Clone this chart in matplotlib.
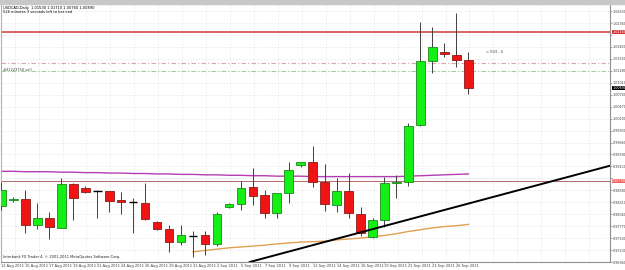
import matplotlib.pyplot as plt
from matplotlib.patches import Rectangle

# Daily USDCAD candles, 12 Aug 2011 .. 27 Sep 2011 (Sunday bars included)
dates = ['12 Aug 2011', '14 Aug 2011', '15 Aug 2011', '16 Aug 2011', '17 Aug 2011', '18 Aug 2011',
         '19 Aug 2011', '21 Aug 2011', '22 Aug 2011', '23 Aug 2011', '24 Aug 2011', '25 Aug 2011',
         '26 Aug 2011', '28 Aug 2011', '29 Aug 2011', '30 Aug 2011', '31 Aug 2011', '1 Sep 2011',
         '2 Sep 2011', '4 Sep 2011', '5 Sep 2011', '6 Sep 2011', '7 Sep 2011', '8 Sep 2011',
         '9 Sep 2011', '11 Sep 2011', '12 Sep 2011', '13 Sep 2011', '14 Sep 2011', '15 Sep 2011',
         '16 Sep 2011', '18 Sep 2011', '19 Sep 2011', '20 Sep 2011', '21 Sep 2011', '22 Sep 2011',
         '23 Sep 2011', '25 Sep 2011', '26 Sep 2011', '27 Sep 2011']

opens = [0.9823, 0.9836, 0.9838, 0.9780, 0.9795, 0.9773, 0.9872, 0.9863, 0.9857, 0.9857,
         0.9836, 0.9832, 0.9829, 0.9786, 0.9771, 0.9741, 0.9755, 0.9757, 0.9737, 0.9820,
         0.9827, 0.9866, 0.9847, 0.9807, 0.9852, 0.9915, 0.9922, 0.9877, 0.9825, 0.9857,
         0.9805, 0.9753, 0.9791, 0.9875, 0.9877, 1.0006, 1.0150, 1.0171, 1.0164, 1.0153]
highs = [0.9877, 0.9843, 0.9859, 0.9829, 0.9809, 0.9886, 0.9875, 0.9868, 0.9858, 0.9857,
         0.9854, 0.9841, 0.9875, 0.9789, 0.9780, 0.9780, 0.9766, 0.9766, 0.9809, 0.9829,
         0.9879, 0.9908, 0.9859, 0.9852, 0.9922, 0.9922, 0.9958, 0.9918, 0.9886, 0.9897,
         0.9820, 0.9795, 0.9888, 0.9893, 1.0010, 1.0238, 1.0227, 1.0191, 1.0259, 1.0171]
lows = [0.9814, 0.9832, 0.9762, 0.9771, 0.9748, 0.9773, 0.9791, 0.9852, 0.9795, 0.9809,
        0.9805, 0.9762, 0.9791, 0.9768, 0.9719, 0.9734, 0.9707, 0.9712, 0.9732, 0.9818,
        0.9814, 0.9825, 0.9795, 0.9795, 0.9829, 0.9911, 0.9866, 0.9811, 0.9809, 0.9795,
        0.9755, 0.9750, 0.9775, 0.9841, 0.9868, 1.0003, 1.0123, 1.0159, 1.0137, 1.0076]
closes = [0.9859, 0.9838, 0.9780, 0.9795, 0.9775, 0.9872, 0.9841, 0.9854, 0.9857, 0.9834,
          0.9832, 0.9832, 0.9793, 0.9771, 0.9741, 0.9757, 0.9755, 0.9737, 0.9805, 0.9827,
          0.9863, 0.9845, 0.9807, 0.9852, 0.9904, 0.9922, 0.9877, 0.9827, 0.9857, 0.9807,
          0.9762, 0.9791, 0.9875, 0.9877, 1.0003, 1.0150, 1.0182, 1.0166, 1.0153, 1.0089]

ma_fast = [0.9901, 0.9901, 0.9900, 0.9900, 0.9900, 0.9899, 0.9899, 0.9898, 0.9898, 0.9897,
           0.9897, 0.9896, 0.9896, 0.9895, 0.9895, 0.9894, 0.9894, 0.9893, 0.9893, 0.9892,
           0.9892, 0.9891, 0.9891, 0.9890, 0.9890, 0.9890, 0.9889, 0.9889, 0.9889, 0.9889,
           0.9889, 0.9889, 0.9889, 0.9889, 0.9890, 0.9891, 0.9892, 0.9893, 0.9894, 0.9895]
ma_slow_start = 16
ma_slow = [0.9719, 0.9722, 0.9725, 0.9728, 0.9730, 0.9732, 0.9734, 0.9737, 0.9739, 0.9741,
           0.9742, 0.9743, 0.9746, 0.9748, 0.9750, 0.9753, 0.9756, 0.9760, 0.9765, 0.9769,
           0.9773, 0.9776, 0.9778, 0.9781]

trend_pts = [(26, 0.9734), (39, 0.9828)]
level_red = 1.0216
level_brown = 0.9879
level_pink = 1.0146
level_green = 1.0128

y_ticks = [round(0.9696 + 0.0027 * k, 5) for k in range(22)]

FS = 2.6
FSY = 2.4
fig = plt.figure(figsize=(6.25, 2.7), dpi=100)
ax = fig.add_axes([1 / 625, 8 / 270, 609 / 625, 258 / 270])
fig.patches.append(Rectangle((0, 266 / 270), 1, 4 / 270, transform=fig.transFigure,
                             color='#c8c8c8', zorder=0))

n = len(opens)
ax.set_xlim(-0.04, 50.84)
ax.set_ylim(0.9696, 1.02791)

# grid
for k in range(26):
    ax.axvline(2 * k + 1.1, color='#d4d4d4', lw=0.5, ls=(0, (1, 2)), zorder=0)
for t in y_ticks:
    ax.axhline(t, color='#d4d4d4', lw=0.5, ls=(0, (1, 2)), zorder=0)

# horizontal levels
ax.axhline(level_red, color='#d24a4a', lw=1.2, zorder=1)
ax.axhline(level_brown, color='#b06a6a', lw=0.7, zorder=1)
ax.axhline(level_pink, color='#d9a5ad', lw=0.8, ls=(0, (4, 2, 1, 2)), zorder=1)
ax.axhline(level_green, color='#9ccf9c', lw=0.8, ls=(0, (4, 2, 1, 2)), zorder=1)

# moving averages
ax.plot(range(n), ma_fast, color='#b43cb4', lw=1.0, zorder=2)
ax.plot(range(ma_slow_start, ma_slow_start + len(ma_slow)), ma_slow, color='#e0a050', lw=1.0, zorder=2)

# candles
w = 0.72
for i in range(n):
    o, h, l, c = opens[i], highs[i], lows[i], closes[i]
    ax.vlines(i, l, h, color='#404040', lw=0.7, zorder=3)
    if abs(c - o) < 0.00008:
        ax.hlines(o, i - w / 2, i + w / 2, color='black', lw=1.0, zorder=4)
        continue
    up = c > o
    face = '#14f014' if up else '#f01414'
    edge = '#1a8a1a' if up else '#8a1a1a'
    ax.add_patch(Rectangle((i - w / 2, min(o, c)), w, abs(c - o), facecolor=face,
                           edgecolor=edge, lw=0.6, zorder=4))

# trend line
ax.axline(trend_pts[0], trend_pts[1], color='black', lw=1.4, zorder=5)

# axes styling
for s in ['top', 'left']:
    ax.spines[s].set_color('#b0b0b0')
for s in ['right', 'bottom']:
    ax.spines[s].set_color('#909090')

tags = [(level_red, '#e03030'), (level_brown, '#f06060'), (closes[-1], 'black')]
ax.yaxis.tick_right()
ax.set_yticks(y_ticks)
# tick labels hidden behind the price tags
ylabels = []
for t in y_ticks:
    hidden = any(abs(t - p) < 0.0012 for p, _ in tags)
    ylabels.append('' if hidden else f'{t:.5f}')
ax.set_yticklabels(ylabels, fontsize=FSY, color='#404040')
ax.tick_params(axis='y', length=1.2, width=0.4, pad=0.6, colors='#606060', labelcolor='#404040')
xt = list(range(0, n, 2))
ax.set_xticks(xt)
ax.set_xticklabels([dates[i] for i in xt], fontsize=FS, ha='left', color='#404040')
ax.tick_params(axis='x', length=1.0, width=0.4, pad=0.5, colors='#606060', labelcolor='#404040')

# price tags on the right axis
for p, fc in tags:
    ax.text(1.0035, p, f'{p:.5f}', transform=ax.get_yaxis_transform(), fontsize=FSY,
            color='white', va='center', ha='left',
            bbox=dict(boxstyle='square,pad=0.1', fc=fc, ec='none'))

# text overlays
hdr = f'USDCAD,Daily  {opens[-1]:.5f} {highs[-1]:.5f} {lows[-1]:.5f} {closes[-1]:.5f}'
ax.text(0.004, 0.993, hdr, transform=ax.transAxes, fontsize=FS, va='top', color='black')
ax.text(0.004, 0.975, '526 minutes 3 seconds left to bar end', transform=ax.transAxes,
        fontsize=FS, va='top', color='black')
ax.text(0.004, level_green + 0.0002, '#41223750 sell', fontsize=FS, va='center', color='#404040',
        transform=ax.get_yaxis_transform())
ax.text(40.5, 1.0171, '< 503 : 0', fontsize=FS, va='center', color='#404040')
ax.text(0.004, 0.012, 'Interbank FX Trader 4, \u00a9 2001-2011 MetaQuotes Software Corp.',
        transform=ax.transAxes, fontsize=FS, va='bottom', color='#202020')

fig.savefig('out.png', dpi=100)
